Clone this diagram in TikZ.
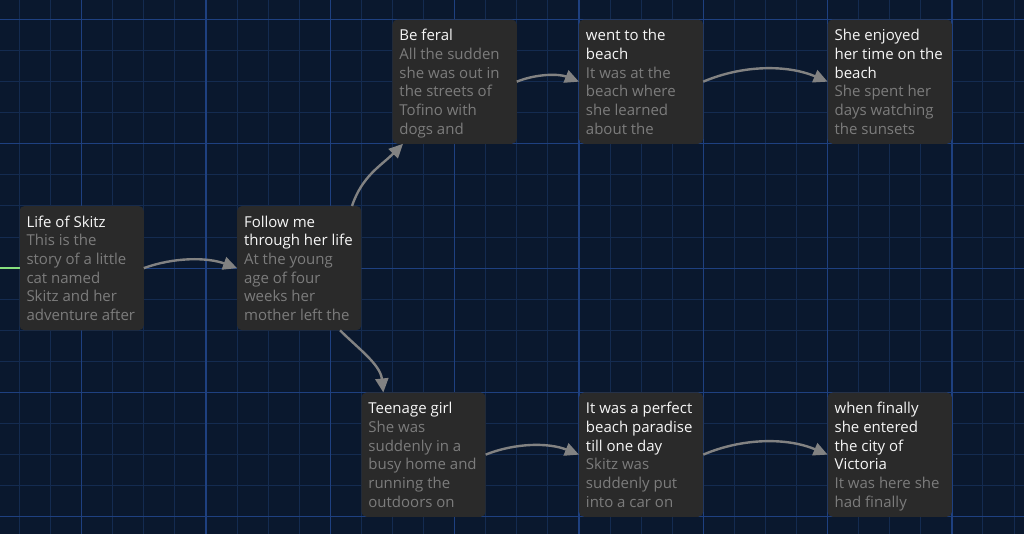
\documentclass[tikz,border=0pt]{standalone}
\usepackage{fontspec}
\setmainfont{Open Sans}
\usetikzlibrary{arrows.meta}
\definecolor{bg}{HTML}{0A182E}
\definecolor{gridmajor}{HTML}{1E4080}
\definecolor{gridminor}{HTML}{142B50}
\definecolor{boxfill}{HTML}{2A2A2A}
\definecolor{titlecol}{HTML}{F6F6F6}
\definecolor{bodycol}{HTML}{7C7C7C}
\definecolor{arrowcol}{HTML}{828282}
\definecolor{startgreen}{HTML}{86E07E}
\newcommand\ttl[1]{\textcolor{titlecol}{#1}}
\newcommand\bdy[1]{\textcolor{bodycol}{#1}}
\newcommand\strt{\rule{0pt}{15pt}}
\begin{document}
\begin{tikzpicture}[x=1pt,y=-1pt,
  box/.style={fill=boxfill, rounded corners=5pt, minimum width=124.3pt, minimum height=124.3pt, inner sep=0pt, outer sep=0pt},
  txt/.style={anchor=north west, inner sep=0pt, outer sep=0pt, align=left, font=\fontsize{15}{18.7}\selectfont},
  conn/.style={draw=arrowcol, line width=2.4pt, -{Triangle[length=14pt,width=13pt]}},
  gminor/.style={draw=gridminor, line width=1pt},
  gmajor/.style={draw=gridmajor, line width=1.2pt}
]
\fill[bg] (0,0) rectangle (1024,534);
\useasboundingbox (0,0) rectangle (1024,534);
% grid
\foreach \k in {0,...,32} { \draw[gminor] ({19.5+31.08*\k},0) -- ({19.5+31.08*\k},534); }
\foreach \k in {0,...,16} { \draw[gminor] (0,{19.5+31.08*\k}) -- (1024,{19.5+31.08*\k}); }
\foreach \k in {2,6,...,30} { \draw[gmajor] ({19.5+31.08*\k},0) -- ({19.5+31.08*\k},534); }
\foreach \k in {0,4,...,16} { \draw[gmajor] (0,{19.5+31.08*\k}) -- (1024,{19.5+31.08*\k}); }

% boxes
\node[box] (life) at (81.66,268.14) {};
\node[box] (follow) at (299.22,268.14) {};
\node[box] (feral) at (454.62,81.66) {};
\node[box] (went) at (641.1,81.66) {};
\node[box] (enjoyed) at (889.74,81.66) {};
\node[box] (teen) at (423.54,454.62) {};
\node[box] (perfect) at (641.1,454.62) {};
\node[box] (victoria) at (889.74,454.62) {};

% texts
\node[txt] (lifet) at ([shift={(7,6.2)}]life.north west)
 {\strt\ttl{Life of Skitz}\\\bdy{This is the}\\\bdy{story of a little}\\\bdy{cat named}\\\bdy{Skitz and her}\\\bdy{adventure after}};
\node[txt] (followt) at ([shift={(7,6.2)}]follow.north west)
 {\strt\ttl{Follow me}\\\ttl{through her life}\\\bdy{At the young}\\\bdy{age of four}\\\bdy{weeks her}\\\bdy{mother left the}};
\node[txt] (feralt) at ([shift={(7,6.2)}]feral.north west)
 {\strt\ttl{Be feral}\\\bdy{All the sudden}\\\bdy{she was out in}\\\bdy{the streets of}\\\bdy{Tofino with}\\\bdy{dogs and}};
\node[txt] (wentt) at ([shift={(7,6.2)}]went.north west)
 {\strt\ttl{went to the}\\\ttl{beach}\\\bdy{It was at the}\\\bdy{beach where}\\\bdy{she learned}\\\bdy{about the}};
\node[txt] (enjoyedt) at ([shift={(7,6.2)}]enjoyed.north west)
 {\strt\ttl{She enjoyed}\\\ttl{her time on the}\\\ttl{beach}\\\bdy{She spent her}\\\bdy{days watching}\\\bdy{the sunsets}};
\node[txt] (teent) at ([shift={(7,6.2)}]teen.north west)
 {\strt\ttl{Teenage girl}\\\bdy{She was}\\\bdy{suddenly in a}\\\bdy{busy home and}\\\bdy{running the}\\\bdy{outdoors on}};
\node[txt] (perfectt) at ([shift={(7,6.2)}]perfect.north west)
 {\strt\ttl{It was a perfect}\\\ttl{beach paradise}\\\ttl{till one day}\\\bdy{Skitz was}\\\bdy{suddenly put}\\\bdy{into a car on}};
\node[txt] (victoriat) at ([shift={(7,6.2)}]victoria.north west)
 {\strt\ttl{when finally}\\\ttl{she entered}\\\ttl{the city of}\\\ttl{Victoria}\\\bdy{It was here she}\\\bdy{had finally}};

% connectors
\coordinate (gin) at (0,268.14);
\draw[startgreen, line width=2.4pt] (gin) -- (life.west);
\draw[conn] (life.east) .. controls +(30,-11) and +(-30,-11) .. (follow.west);
\draw[conn] ([xshift=52.8pt]follow.north) .. controls +(10,-30) and +(-22,22) .. ([xshift=-51.6pt]feral.south);
\draw[conn] ([xshift=40.8pt]follow.south) .. controls +(18,18) and +(-3,-28) .. ([xshift=-40.2pt]teen.north);
\draw[conn] (feral.east) .. controls +(20,-8) and +(-20,-8) .. (went.west);
\draw[conn] (went.east) .. controls +(40,-17) and +(-40,-17) .. (enjoyed.west);
\draw[conn] (teen.east) .. controls +(30,-12) and +(-30,-12) .. (perfect.west);
\draw[conn] (perfect.east) .. controls +(40,-17) and +(-40,-17) .. (victoria.west);
\end{tikzpicture}
\end{document}
